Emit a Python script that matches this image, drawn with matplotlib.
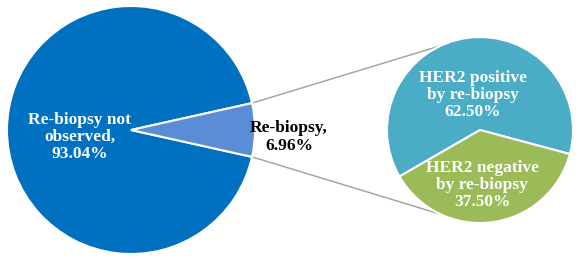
import numpy as np
import matplotlib
matplotlib.use("Agg")
import matplotlib.pyplot as plt

plt.rcParams.update({
    "font.family": "serif",
    "font.serif": ["Liberation Serif", "DejaVu Serif"],
})

# Main pie
MAIN_LABELS = ["Re-biopsy not\nobserved,", "Re-biopsy,"]
MAIN_VALUES = [93.04, 6.96]
# Breakdown of re-biopsy
SUB_LABELS = ["HER2 positive\nby re-biopsy", "HER2 negative\nby re-biopsy"]
SUB_VALUES = [62.50, 37.50]

MAIN_COLORS = ["#0070C0", "#5B8DD6"]
SUB_COLORS = ["#4BACC6", "#9BBB59"]

W, H = 583, 259
fig = plt.figure(figsize=(W / 100, H / 100), dpi=100)
ax = fig.add_axes([0, 0, 1, 1])

c1, r1 = (131, 129), 124
c2, r2 = (480, 129), 93

half = MAIN_VALUES[1] / 100 * 180
ax.pie(MAIN_VALUES, colors=MAIN_COLORS, center=c1, radius=r1,
       startangle=half, counterclock=True, frame=True,
       wedgeprops=dict(edgecolor="white", linewidth=1.5))
ax.pie(SUB_VALUES, colors=SUB_COLORS, center=c2, radius=r2,
       startangle=-15, counterclock=True, frame=True,
       wedgeprops=dict(edgecolor="white", linewidth=1.5))
ax.set_xlim(0, W)
ax.set_ylim(0, H)
ax.set_aspect("equal")
ax.axis("off")

# connector lines
for sgn in (1, -1):
    a1 = np.deg2rad(sgn * half)
    a2 = np.deg2rad(sgn * 115)
    p1 = (c1[0] + r1 * np.cos(a1), c1[1] + r1 * np.sin(a1))
    p2 = (c2[0] + r2 * np.cos(a2), c2[1] + r2 * np.sin(a2))
    ax.plot([p1[0], p2[0]], [p1[1], p2[1]], color="#A6A6A6", lw=1.1, zorder=0)

fs = 12.5
ls = 1.12
ax.text(80, 122, f"{MAIN_LABELS[0]}\n{MAIN_VALUES[0]:.2f}%", color="white",
        ha="center", va="center", fontsize=fs, fontweight="bold", linespacing=ls)
ax.text(289, 122, f"{MAIN_LABELS[1]}\n{MAIN_VALUES[1]:.2f}%", color="black",
        ha="center", va="center", fontsize=fs, fontweight="bold", linespacing=ls)
ax.text(473, 164, f"{SUB_LABELS[0]}\n{SUB_VALUES[0]:.2f}%", color="white",
        ha="center", va="center", fontsize=fs, fontweight="bold", linespacing=ls)
ax.text(482, 74, f"{SUB_LABELS[1]}\n{SUB_VALUES[1]:.2f}%", color="white",
        ha="center", va="center", fontsize=fs, fontweight="bold", linespacing=ls)

fig.savefig("out.png", dpi=100, facecolor="white")
